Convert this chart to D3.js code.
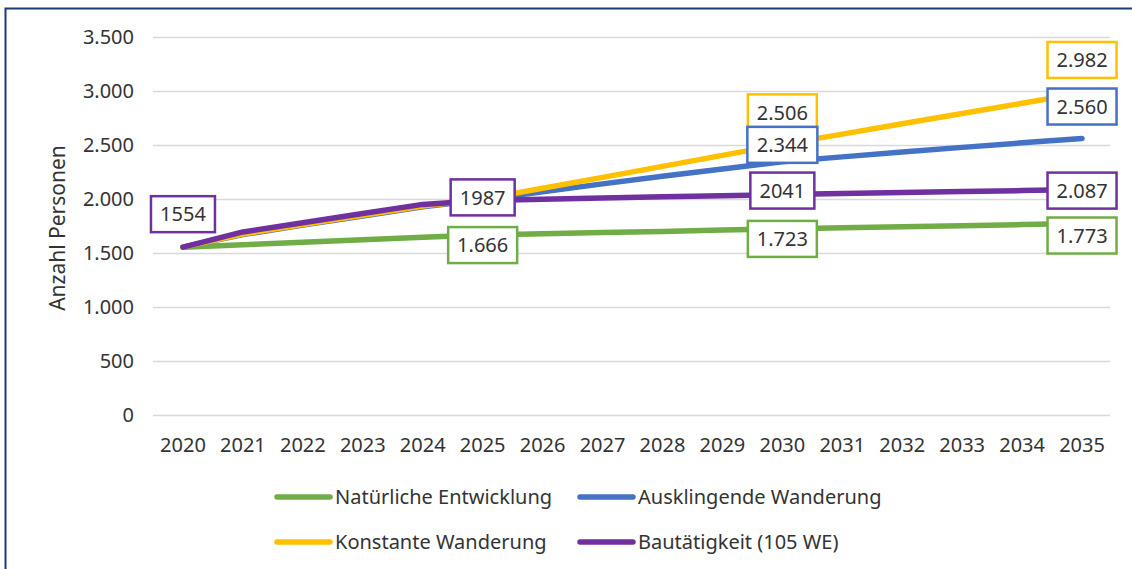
<!DOCTYPE html>
<html>
<head>
<meta charset="utf-8">
<script src="https://cdn.jsdelivr.net/npm/d3@7"></script>
<style>
  body { margin: 0; background: #fff; }
  svg { display: block; font-family: "Noto Sans", "Open Sans", sans-serif; }
</style>
</head>
<body>
<div id="chart"></div>
<script>
// years on the x axis
var years = ["2020","2021","2022","2023","2024","2025","2026","2027","2028",
             "2029","2030","2031","2032","2033","2034","2035"];

// values (labelled points are exact)
var natuerlich   = [1554,1577,1600,1623,1645,1666,1678,1689,1700,1712,1723,1733,1743,1753,1763,1773];
var ausklingend  = [1554,1670,1758,1843,1928,1992,2068,2140,2210,2278,2344,2390,2435,2478,2520,2560];
var konstant     = [1554,1676,1764,1850,1935,1998,2100,2200,2302,2404,2506,2601,2696,2791,2886,2982];
var bautaetigkeit= [1554,1695,1780,1865,1950,1987,1998,2009,2020,2030,2041,2050,2060,2069,2078,2087];

var seriesNames  = ["Natürliche Entwicklung","Ausklingende Wanderung","Konstante Wanderung","Bautätigkeit (105 WE)"];
var seriesColors = ["#70ad47","#4472c4","#ffc000","#7030a0"];
var seriesValues = [natuerlich, ausklingend, konstant, bautaetigkeit];

var yTicks = [0,500,1000,1500,2000,2500,3000,3500];

// data labels: series index, year index, text
var labelSeries = [3, 3, 0, 2, 1, 3, 0, 2, 1, 3, 0];
var labelYear   = [0, 5, 5, 10, 10, 10, 10, 15, 15, 15, 15];
var labelText   = ["1554","1987","1.666","2.506","2.344","2041","1.723","2.982","2.560","2.087","1.773"];

// vertical shift of each label box relative to its point (layout only)
var labelShift  = [-33, -3, 10, -32, -17, -4, 10, -33, -32, 1, 12];

var W = 1132, H = 569;
var FS = 20;

var svg = d3.select("#chart").append("svg")
  .attr("width", W)
  .attr("height", H);

// frame
svg.append("path")
  .attr("d", "M5.5," + H + "V8.5H" + W)
  .attr("fill", "none")
  .attr("stroke", "#1f3a78")
  .attr("stroke-width", 2);

var x = d3.scaleBand()
  .domain(years)
  .range([153, 1112]);

var y = d3.scaleLinear()
  .domain([0, 3500])
  .range([415, 37]);

var de = d3.formatLocale({decimal: ",", thousands: ".", grouping: [3], currency: ["", "€"]});
var fmt = de.format(",");

// grid
svg.append("g")
  .selectAll("line")
  .data(yTicks)
  .join("line")
    .attr("x1", 153)
    .attr("x2", 1110)
    .attr("y1", function(d) { return Math.round(y(d)) + 0.5; })
    .attr("y2", function(d) { return Math.round(y(d)) + 0.5; })
    .attr("stroke", "#d9d9d9")
    .attr("stroke-width", 1.5);

// y axis labels
var yAxis = svg.append("g")
  .attr("transform", "translate(134,0)")
  .call(d3.axisLeft(y).tickValues(yTicks).tickFormat(fmt).tickSize(0).tickPadding(0));
yAxis.select(".domain").remove();
yAxis.selectAll("text")
  .attr("fill", "#333")
  .attr("font-size", FS)
  .attr("font-family", "Noto Sans, sans-serif");

// x axis labels
var xAxis = svg.append("g")
  .attr("transform", "translate(0,438)")
  .call(d3.axisBottom(x).tickSize(0).tickPadding(0));
xAxis.select(".domain").remove();
xAxis.selectAll("text")
  .attr("fill", "#333")
  .attr("font-size", FS)
  .attr("font-family", "Noto Sans, sans-serif");

// axis title
svg.append("text")
  .attr("transform", "translate(65,228) rotate(-90)")
  .attr("text-anchor", "middle")
  .attr("fill", "#333")
  .attr("font-size", 21)
  .text("Anzahl Personen");

var line = d3.line()
  .x(function(d, i) { return x(years[i]) + x.bandwidth() / 2; })
  .y(function(d) { return y(d); });

svg.append("g")
  .selectAll("path")
  .data(seriesValues)
  .join("path")
    .attr("d", line)
    .attr("fill", "none")
    .attr("stroke", function(d, i) { return seriesColors[i]; })
    .attr("stroke-width", 5.5)
    .attr("stroke-linecap", "round")
    .attr("stroke-linejoin", "round");

// data labels
var labels = labelText.map(function(t, k) {
  return {s: labelSeries[k], i: labelYear[k], t: t, dy: labelShift[k]};
});
var lg = svg.append("g")
  .selectAll("g")
  .data(labels)
  .join("g")
    .attr("transform", function(d) {
      var cx = x(years[d.i]) + x.bandwidth() / 2;
      var cy = y(seriesValues[d.s][d.i]) + d.dy;
      return "translate(" + cx + "," + cy + ")";
    });
lg.append("text")
  .attr("text-anchor", "middle")
  .attr("dy", "0.36em")
  .attr("fill", "#333")
  .attr("font-size", FS)
  .text(function(d) { return d.t; });
lg.insert("rect", "text")
  .each(function(d) {
    var bb = this.parentNode.querySelector("text").getBBox();
    var w = Math.round(bb.width) + 18;
    d3.select(this)
      .attr("x", -w / 2)
      .attr("y", -18)
      .attr("width", w)
      .attr("height", 36);
  })
  .attr("fill", "#fff")
  .attr("stroke", function(d) { return seriesColors[d.s]; })
  .attr("stroke-width", 2.5);

// legend
var legendOrder = [0, 1, 2, 3];
var leg = svg.append("g")
  .selectAll("g")
  .data(legendOrder)
  .join("g")
    .attr("transform", function(d) {
      var col = d % 2, row = Math.floor(d / 2);
      return "translate(" + (col ? 580 : 277) + "," + (497 + row * 45) + ")";
    });
leg.append("line")
  .attr("x1", 0)
  .attr("x2", 53)
  .attr("stroke", function(d) { return seriesColors[d]; })
  .attr("stroke-width", 5.5)
  .attr("stroke-linecap", "round");
leg.append("text")
  .attr("x", 58)
  .attr("dy", "0.35em")
  .attr("fill", "#333")
  .attr("font-size", FS)
  .text(function(d) { return seriesNames[d]; });
</script>
</body>
</html>
